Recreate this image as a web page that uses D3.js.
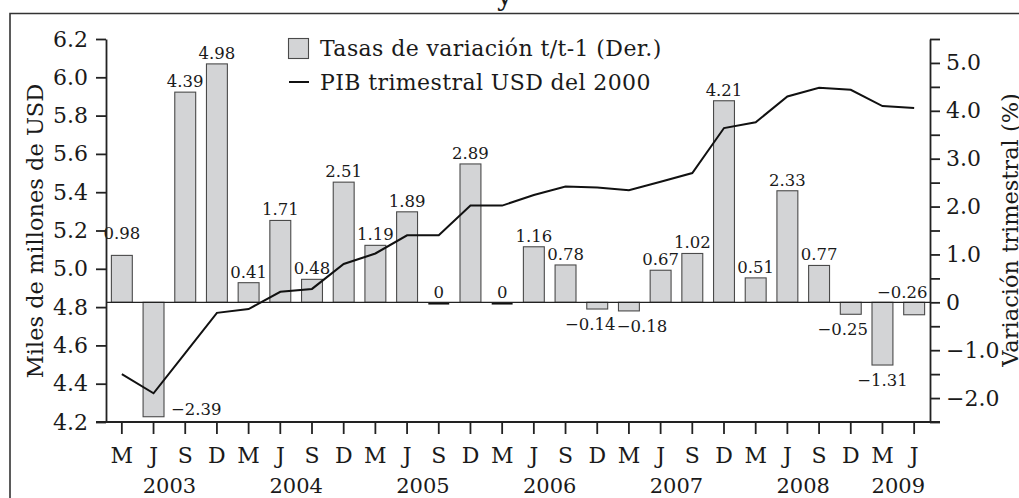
<!DOCTYPE html>
<html>
<head>
<meta charset="utf-8">
<script src="https://cdn.jsdelivr.net/npm/d3@7"></script>
<style>
  html, body { margin: 0; padding: 0; background: #fff; }
  svg { display: block; }
  text { font-family: "DejaVu Serif", serif; fill: #1a1a1a; }
</style>
</head>
<body>
<svg id="chart" width="1019" height="498"></svg>
<script>
// ---------- data ----------
const quarters = ["M","J","S","D","M","J","S","D","M","J","S","D","M","J","S","D","M","J","S","D","M","J","S","D","M","J"];
const years = ["2003","2004","2005","2006","2007","2008","2009"];
const rates = [0.98,-2.39,4.39,4.98,0.41,1.71,0.48,2.51,1.19,1.89,0,2.89,0,1.16,0.78,-0.14,-0.18,0.67,1.02,4.21,0.51,2.33,0.77,-0.25,-1.31,-0.26];
const pib = [4.45,4.35,4.56,4.77,4.79,4.88,4.895,5.025,5.08,5.175,5.175,5.33,5.33,5.385,5.43,5.425,5.41,5.455,5.50,5.735,5.765,5.90,5.945,5.935,5.85,5.84];
const leftTicks = [4.2,4.4,4.6,4.8,5.0,5.2,5.4,5.6,5.8,6.0,6.2];
const rightTicks = [-2.5,-2,-1.5,-1,-0.5,0,0.5,1,1.5,2,2.5,3,3.5,4,4.5,5,5.5];
const legendLabels = ["Tasas de variación t/t-1 (Der.)", "PIB trimestral USD del 2000"];
const leftTitle = "Miles de millones de USD";
const rightTitle = "Variación trimestral (%)";

// ---------- layout ----------
const svg = d3.select("#chart");
const L = 106, R = 930, T = 39, B = 422;
const idx = d3.range(quarters.length);

const x = d3.scaleBand().domain(idx).range([L, R]).paddingInner(0.34).paddingOuter(0.17);
const cx = i => x(i) + x.bandwidth() / 2;
const yL = d3.scaleLinear().domain([4.2, 6.2]).range([B, T]);
const yR = d3.scaleLinear().domain([-2.5, 5.5]).range([B, T]);

// frame
svg.append("path")
  .attr("d", `M10,498 L10,13.5 L1019,13.5`)
  .attr("fill", "none").attr("stroke", "#333").attr("stroke-width", 1.6);

// title fragment (cut off at top, as in the source)
svg.append("text").attr("x", 497).attr("y", 5).attr("font-size", 28).text("y");

// bars
const g = svg.append("g");
g.selectAll("rect.bar").data(idx.filter(i => rates[i] !== 0)).join("rect")
  .attr("class", "bar")
  .attr("x", i => x(i))
  .attr("width", x.bandwidth())
  .attr("y", i => yR(Math.max(0, rates[i])))
  .attr("height", i => Math.abs(yR(rates[i]) - yR(0)))
  .attr("fill", "#d3d4d6").attr("stroke", "#4a4a4a").attr("stroke-width", 1.1);

// zero-value bars drawn as thick line
g.selectAll("line.zero").data(idx.filter(i => rates[i] === 0)).join("line")
  .attr("x1", i => x(i)).attr("x2", i => x(i) + x.bandwidth())
  .attr("y1", yR(0) + 1).attr("y2", yR(0) + 1)
  .attr("stroke", "#111").attr("stroke-width", 2.5);

// zero baseline
svg.append("line").attr("x1", L).attr("x2", R)
  .attr("y1", yR(0)).attr("y2", yR(0))
  .attr("stroke", "#222").attr("stroke-width", 1.2);

// value labels
const fmtV = v => v === 0 ? "0" : d3.format(".2f")(v);
const special = {
  0: {dy: -11},
  1: {mode: "right"},
  15: {dx: -7},
  16: {dx: 13},
  23: {dx: -8},
  25: {mode: "above"}
};
idx.forEach(i => {
  const v = rates[i];
  const s = special[i] || {};
  let tx = cx(i) + (s.dx || 0), ty, anchor = "middle";
  if (s.mode === "right") {
    tx = x(i) + x.bandwidth() + 7; ty = yR(v) - 2; anchor = "start";
  } else if (s.mode === "above") {
    tx = x(i) + x.bandwidth() + 3; ty = yR(0) - 4; anchor = "end";
  } else if (v > 0) {
    ty = yR(v) - 5 + (s.dy || 0);
  } else if (v === 0) {
    ty = yR(0) - 4;
  } else {
    ty = yR(v) + 21;
  }
  svg.append("text").attr("x", tx).attr("y", ty)
    .attr("text-anchor", anchor).attr("font-size", 16.5).text(fmtV(v));
});

// line
svg.append("path").datum(idx)
  .attr("d", d3.line().x(i => cx(i)).y(i => yL(pib[i])))
  .attr("fill", "none").attr("stroke", "#111").attr("stroke-width", 2);

// axes
function styleAxis(sel) {
  sel.select(".domain").attr("stroke", "#222").attr("stroke-width", 1.8);
  sel.selectAll(".tick line").attr("stroke", "#222").attr("stroke-width", 1.8);
  sel.selectAll(".tick text").attr("font-family", "DejaVu Serif").attr("fill", "#1a1a1a");
}
const axL = svg.append("g").attr("transform", `translate(${L},0)`)
  .call(d3.axisLeft(yL).tickValues(leftTicks).tickFormat(d3.format(".1f")).tickSize(10).tickPadding(8).tickSizeOuter(0));
styleAxis(axL);
axL.selectAll(".tick text").attr("font-size", 22);

const axR = svg.append("g").attr("transform", `translate(${R},0)`)
  .call(d3.axisRight(yR).tickValues(rightTicks)
    .tickFormat(d => Number.isInteger(d) ? (d === 0 ? "0" : d3.format(".1f")(d)) : "")
    .tickSize(10).tickPadding(6).tickSizeOuter(0));
styleAxis(axR);
axR.selectAll(".tick text").attr("font-size", 22);

const axB = svg.append("g").attr("transform", `translate(0,${B})`)
  .call(d3.axisBottom(x).tickFormat(i => quarters[i]).tickSize(12).tickPadding(13).tickSizeOuter(0));
styleAxis(axB);
axB.select(".domain").attr("d", `M${L - 10},0H${R + 10}`);
axB.selectAll(".tick text").attr("font-size", 22);

// years
years.forEach((yr, k) => {
  const members = idx.filter(i => Math.floor(i / 4) === k);
  const xc = d3.mean(members, i => cx(i));
  svg.append("text").attr("x", xc).attr("y", 493).attr("text-anchor", "middle")
    .attr("font-size", 21).text(yr);
});

// axis titles
svg.append("text").attr("transform", `translate(43,231) rotate(-90)`)
  .attr("text-anchor", "middle").attr("font-size", 22.5).text(leftTitle);
svg.append("text").attr("transform", `translate(1018,230) rotate(-90)`)
  .attr("text-anchor", "middle").attr("font-size", 22.5).text(rightTitle);

// legend
svg.append("rect").attr("x", 288.5).attr("y", 38.5).attr("width", 20).attr("height", 20)
  .attr("fill", "#d3d4d6").attr("stroke", "#4a4a4a").attr("stroke-width", 1.1);
svg.append("text").attr("x", 320).attr("y", 56).attr("font-size", 22).attr("letter-spacing", 0.4).text(legendLabels[0]);
svg.append("line").attr("x1", 289).attr("x2", 309).attr("y1", 82).attr("y2", 82)
  .attr("stroke", "#111").attr("stroke-width", 2);
svg.append("text").attr("x", 320).attr("y", 90).attr("font-size", 22).attr("letter-spacing", 0.4).text(legendLabels[1]);
</script>
</body>
</html>
